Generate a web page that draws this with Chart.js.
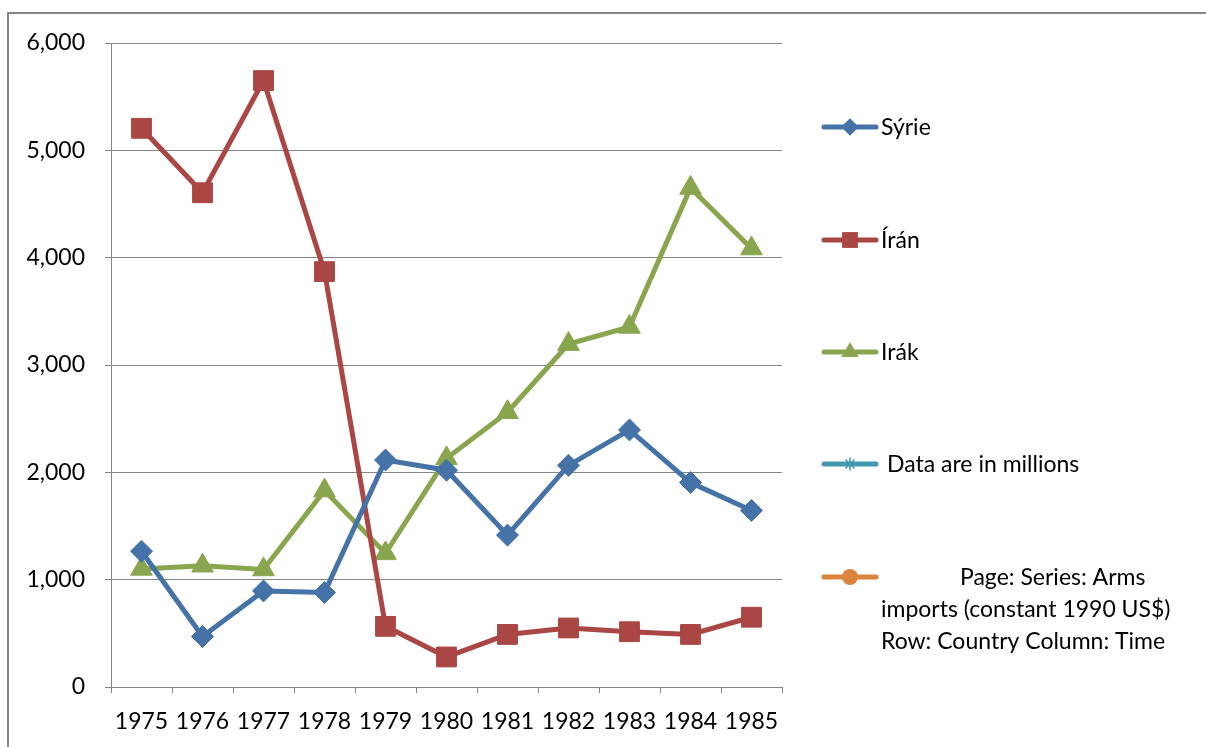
<!DOCTYPE html>
<html>
<head>
<meta charset="utf-8">
<script src="https://cdn.jsdelivr.net/npm/chart.js@4.4.1/dist/chart.umd.min.js"></script>
<style>
  html, body { margin: 0; padding: 0; background: #fff; overflow: hidden; }
  #frame { position: absolute; left: 7px; top: 12px; width: 1400px; height: 900px; border: 2px solid #878787; box-sizing: border-box; }
  #c { position: absolute; left: 0; top: 0; }
</style>
</head>
<body>
<div id="frame"></div>
<canvas id="c" width="1206" height="747"></canvas>
<script>
const years = ['1975','1976','1977','1978','1979','1980','1981','1982','1983','1984','1985'];
const seriesNames = ['Sýrie', 'Írán', 'Irák', 'Data are in millions', 'Page: Series: Arms\nimports (constant 1990 US$)\nRow: Country Column: Time'];
const syria = [1265, 470, 895, 880, 2115, 2020, 1415, 2065, 2395, 1905, 1645];
const iran  = [5205, 4605, 5650, 3870, 565, 280, 490, 550, 515, 490, 650];
const iraq  = [1100, 1130, 1095, 1830, 1245, 2130, 2560, 3195, 3355, 4650, 4085];
const dataNote = [];
const pageNote = [];
const yTicks = [0, 1000, 2000, 3000, 4000, 5000, 6000];

const colors = ['#4572A7', '#AA4643', '#89A54E', '#4198AF', '#DB843D'];
const styles = ['rectRot', 'rect', 'triangle', 'star', 'circle'];
const radii = [11, 14, 12.5, 8, 10];
const FONT = 'Lato, "Open Sans", sans-serif';

function ds(i, data) {
  return {
    label: seriesNames[i], data: data,
    borderColor: colors[i], backgroundColor: colors[i],
    borderWidth: 5, pointStyle: styles[i], pointRadius: radii[i],
    pointBackgroundColor: colors[i], pointBorderColor: colors[i], pointBorderWidth: 1,
    tension: 0, fill: false
  };
}

function drawMarker(ctx, style, x, y, r, color) {
  ctx.save();
  ctx.fillStyle = color; ctx.strokeStyle = color;
  ctx.beginPath();
  if (style === 'rectRot') {
    ctx.moveTo(x - r, y); ctx.lineTo(x, y - r); ctx.lineTo(x + r, y); ctx.lineTo(x, y + r); ctx.closePath(); ctx.fill();
  } else if (style === 'rect') {
    const s = r * Math.SQRT1_2; ctx.rect(x - s, y - s, 2 * s, 2 * s); ctx.fill();
  } else if (style === 'triangle') {
    for (let k = 0; k < 3; k++) {
      const a = k * 2 * Math.PI / 3;
      const px = x + Math.sin(a) * r, py = y - Math.cos(a) * r;
      if (k === 0) ctx.moveTo(px, py); else ctx.lineTo(px, py);
    }
    ctx.closePath(); ctx.fill();
  } else if (style === 'circle') {
    ctx.arc(x, y, r, 0, Math.PI * 2); ctx.fill();
  } else if (style === 'star') {
    ctx.lineWidth = 1.5;
    for (let k = 0; k < 4; k++) {
      const a = k * Math.PI / 4;
      ctx.moveTo(x - Math.cos(a) * r, y - Math.sin(a) * r);
      ctx.lineTo(x + Math.cos(a) * r, y + Math.sin(a) * r);
    }
    ctx.stroke();
  }
  ctx.restore();
}

const legendPlugin = {
  id: 'sideLegend',
  afterDraw(chart) {
    const ctx = chart.ctx;
    const ys = [127, 240, 352, 464, 577];
    const textX = [881, 881, 881, 887, 881];
    chart.data.datasets.forEach((d, i) => {
      const y = ys[i];
      ctx.save();
      ctx.strokeStyle = d.borderColor; ctx.lineWidth = 5; ctx.lineCap = 'round';
      ctx.beginPath(); ctx.moveTo(824, y); ctx.lineTo(876, y); ctx.stroke();
      ctx.restore();
      drawMarker(ctx, d.pointStyle, 850, y, d.pointRadius * 0.8, d.borderColor);
      ctx.save();
      ctx.fillStyle = '#000'; ctx.font = '23px ' + FONT; ctx.textBaseline = 'middle'; ctx.textAlign = 'left';
      const lines = d.label.split('\n');
      lines.forEach((ln, k) => {
        const x = (lines.length > 1 && k === 0) ? 960 : textX[i];
        ctx.fillText(ln, x, y + 1 + k * 32);
      });
      ctx.restore();
    });
  }
};

new Chart(document.getElementById('c'), {
  type: 'line',
  data: {
    labels: years,
    datasets: [ds(0, syria), ds(1, iran), ds(2, iraq), ds(3, dataNote), ds(4, pageNote)]
  },
  options: {
    responsive: false, animation: false, devicePixelRatio: 1,
    layout: { padding: { left: 0, right: 424, top: 43, bottom: 0 } },
    plugins: { legend: { display: false }, tooltip: { enabled: false } },
    scales: {
      x: {
        type: 'category', offset: true,
        grid: { offset: true, drawOnChartArea: false, color: '#868686', tickLength: 6, lineWidth: 1 },
        border: { color: '#868686', width: 1 },
        ticks: { color: '#000', font: { family: FONT, size: 23 }, padding: 15, maxRotation: 0, autoSkip: false },
        afterFit: s => { s.height = 60; }
      },
      y: {
        min: 0, max: 6000,
        afterBuildTicks: s => { s.ticks = yTicks.map(v => ({ value: v })); },
        grid: { color: '#868686', tickLength: 6, lineWidth: 1 },
        border: { color: '#868686', width: 1 },
        ticks: { color: '#000', font: { family: FONT, size: 23 }, padding: 20,
                 callback: v => v.toLocaleString('en-US') },
        afterFit: s => { s.width = 111; }
      }
    }
  },
  plugins: [legendPlugin]
});
</script>
</body>
</html>
